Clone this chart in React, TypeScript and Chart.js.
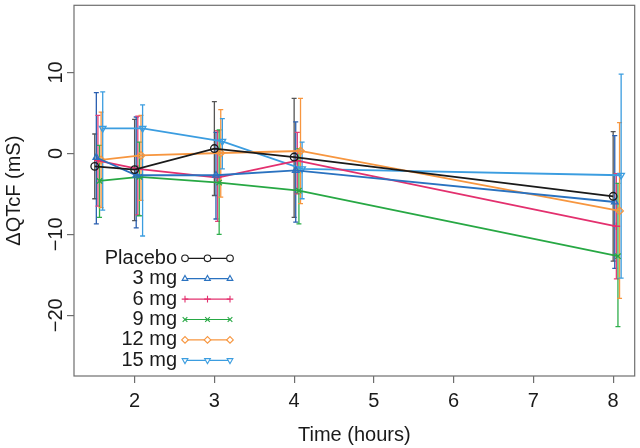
import React, { useEffect, useRef } from "react";
import { Chart, registerables, PointElement } from "chart.js";

Chart.register(...registerables);

// ---------- data ----------
const times = [1.5, 2, 3, 4, 8];
const seriesNames = ["Placebo", "3 mg", "6 mg", "9 mg", "12 mg", "15 mg"];

const placeboMean = [-1.6, -2.0, 0.6, -0.45, -5.3];
const placeboLow = [-5.6, -8.3, -5.2, -7.9, -13.3];
const placeboHigh = [2.4, 4.2, 6.4, 6.8, 2.7];

const mg3Mean = [-0.5, -2.7, -2.7, -2.1, -6.0];
const mg3Low = [-8.7, -9.2, -8.1, -8.5, -14.2];
const mg3High = [7.5, 4.5, 2.6, 3.9, 2.2];

const mg6Mean = [-0.9, -1.9, -3.0, -0.9, -9.0];
const mg6Low = [-6.5, -7.6, -8.4, -5.0, -15.5];
const mg6High = [4.7, 4.6, 2.8, 2.6, -2.5];

const mg9Mean = [-3.4, -2.9, -3.6, -4.6, -12.7];
const mg9Low = [-7.9, -7.7, -10.0, -8.7, -21.4];
const mg9High = [1.0, 1.4, 2.9, 0.6, -3.7];

const mg12Mean = [-0.8, -0.25, 0.05, 0.3, -7.1];
const mg12Low = [-6.7, -5.8, -5.4, -6.2, -17.9];
const mg12High = [5.1, 4.7, 5.4, 6.8, 3.8];

const mg15Mean = [3.1, 3.1, 1.5, -1.9, -2.7];
const mg15Low = [-7.0, -10.2, -1.9, -5.6, -15.4];
const mg15High = [7.6, 6.0, 4.3, 1.4, 9.8];

const xTicks = [2, 3, 4, 5, 6, 7, 8];
const yTicks = [-20, -10, 0, 10];

const means = [placeboMean, mg3Mean, mg6Mean, mg9Mean, mg12Mean, mg15Mean];
const lows = [placeboLow, mg3Low, mg6Low, mg9Low, mg12Low, mg15Low];
const highs = [placeboHigh, mg3High, mg6High, mg9High, mg12High, mg15High];

// ---------- styles ----------
const lineColors = ["#1a1a1a", "#2a72c0", "#e3306e", "#27a844", "#f7963f", "#3b9de0"];
const barColors = ["#555555", "#2a5fb0", "#e3407a", "#2fae4c", "#f7963f", "#3b9de0"];
const pointStyles = ["circle", "triangle", "cross", "crossRot", "rectRot", "triangle"];
const pointRotations = [0, 0, 0, 0, 0, 180];
const dodgeStep = 0.02;

const FONT = "'Liberation Sans', Arial, Helvetica, sans-serif";
const fmt = (v: number) => (v < 0 ? "\u2212" + Math.abs(v) : String(v));

export default function App() {
  const ref = useRef<HTMLCanvasElement | null>(null);

  useEffect(() => {
    if (!ref.current) return;

    const datasets = seriesNames.map((name, k) => ({
      label: name,
      data: times.map((t, i) => ({ x: t + k * dodgeStep, y: means[k][i] })),
      borderColor: lineColors[k],
      borderWidth: 1.8,
      pointStyle: pointStyles[k],
      pointRotation: pointRotations[k],
      pointRadius: 3.8,
      pointBorderWidth: 1.3,
      pointBorderColor: lineColors[k],
      pointBackgroundColor: "rgba(255,255,255,0)",
      tension: 0,
      fill: false,
      clip: false as any,
    }));

    const rPlugin = {
      id: "rstyle",
      beforeDatasetsDraw(chart: any) {
        const ctx = chart.ctx;
        const ys = chart.scales.y;
        ctx.save();
        seriesNames.forEach((_, k) => {
          const meta = chart.getDatasetMeta(k);
          ctx.strokeStyle = barColors[k];
          ctx.lineWidth = 1.3;
          meta.data.forEach((pt: any, i: number) => {
            const x = pt.x;
            const yl = ys.getPixelForValue(lows[k][i]);
            const yh = ys.getPixelForValue(highs[k][i]);
            ctx.beginPath();
            ctx.moveTo(x, yl);
            ctx.lineTo(x, yh);
            ctx.moveTo(x - 2.5, yl);
            ctx.lineTo(x + 2.5, yl);
            ctx.moveTo(x - 2.5, yh);
            ctx.lineTo(x + 2.5, yh);
            ctx.stroke();
          });
        });
        ctx.restore();
      },
      afterDraw(chart: any) {
        const ctx = chart.ctx;
        const a = chart.chartArea;
        const ys = chart.scales.y;
        ctx.save();
        // box
        ctx.strokeStyle = "#6e6e6e";
        ctx.lineWidth = 1.2;
        ctx.strokeRect(a.left, a.top, a.right - a.left, a.bottom - a.top);
        // y tick labels (rotated, R style)
        ctx.fillStyle = "#1a1a1a";
        ctx.font = `20px ${FONT}`;
        ctx.textAlign = "center";
        ctx.textBaseline = "middle";
        yTicks.forEach((v) => {
          const py = ys.getPixelForValue(v);
          ctx.save();
          ctx.translate(a.left - 18, py);
          ctx.rotate(-Math.PI / 2);
          ctx.fillText(fmt(v), 0, 0);
          ctx.restore();
        });
        // legend
        const textRight = a.left + 103;
        const lx0 = a.left + 111;
        const lx1 = a.left + 156;
        seriesNames.forEach((name, k) => {
          const ly = a.top + 253 + k * 20.4;
          ctx.fillStyle = "#1a1a1a";
          ctx.textAlign = "right";
          ctx.fillText(name, textRight, ly);
          ctx.strokeStyle = lineColors[k];
          ctx.lineWidth = 1.2;
          ctx.beginPath();
          ctx.moveTo(lx0, ly);
          ctx.lineTo(lx1, ly);
          ctx.stroke();
          [lx0, (lx0 + lx1) / 2, lx1].forEach((px) => {
            const p: any = new (PointElement as any)({ x: px, y: ly });
            p.options = {
              pointStyle: pointStyles[k],
              rotation: pointRotations[k],
              radius: 3.3,
              borderWidth: 1.1,
              borderColor: lineColors[k],
              backgroundColor: "#ffffff",
            };
            p.draw(ctx, { left: 0, top: 0, right: 10000, bottom: 10000 });
          });
        });
        ctx.restore();
      },
    };

    const chart = new Chart(ref.current, {
      type: "line",
      data: { datasets },
      options: {
        animation: false,
        responsive: false,
        events: [],
        layout: { padding: { top: 5, right: 2, left: 0, bottom: 0 } },
        plugins: { legend: { display: false }, tooltip: { enabled: false } },
        scales: {
          x: {
            type: "linear",
            min: 1.24,
            max: 8.27,
            afterBuildTicks: (s: any) => {
              s.ticks = xTicks.map((v) => ({ value: v }));
            },
            afterFit: (s: any) => {
              s.height = 72;
            },
            grid: { display: true, drawOnChartArea: false, drawTicks: true, tickLength: 7, color: "#6e6e6e", lineWidth: 1.2 },
            border: { display: false },
            ticks: {
              color: "#1a1a1a",
              font: { size: 20, family: FONT },
              padding: 6,
              maxRotation: 0,
              autoSkip: false,
              callback: (v: any) => String(v),
            },
            title: {
              display: true,
              text: "Time (hours)",
              color: "#1a1a1a",
              font: { size: 20, family: FONT },
              padding: { top: 0, bottom: 1 },
            },
          },
          y: {
            type: "linear",
            min: -27.5,
            max: 18.3,
            afterBuildTicks: (s: any) => {
              s.ticks = yTicks.map((v) => ({ value: v }));
            },
            afterFit: (s: any) => {
              s.width = 74;
            },
            grid: { display: true, drawOnChartArea: false, drawTicks: true, tickLength: 7, color: "#6e6e6e", lineWidth: 1.2 },
            border: { display: false },
            ticks: { display: false },
            title: {
              display: true,
              text: "\u0394QTcF (mS)",
              color: "#1a1a1a",
              font: { size: 20, family: FONT },
              padding: { top: 2, bottom: 0 },
            },
          },
        },
      },
      plugins: [rPlugin],
    } as any);

    return () => chart.destroy();
  }, []);

  return (
    <div style={{ position: "absolute", left: 0, top: 0, width: 640, height: 448, background: "#ffffff" }}>
      <canvas ref={ref} width={640} height={448} style={{ display: "block", width: 640, height: 448 }} />
    </div>
  );
}
